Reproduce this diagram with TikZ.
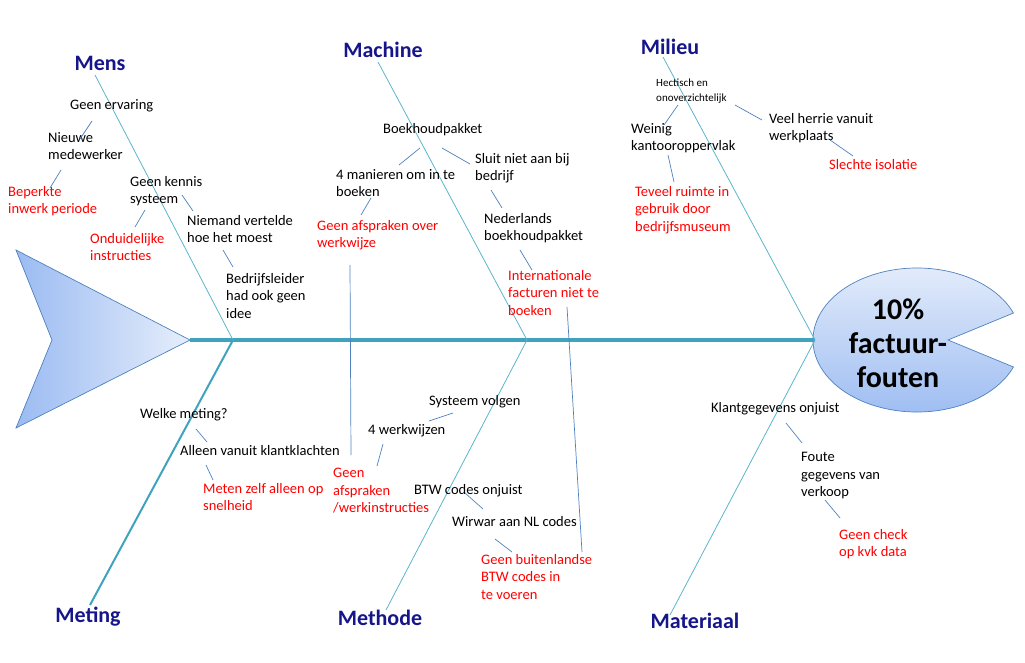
\documentclass[tikz,border=0pt]{standalone}
\usepackage{fontspec}
\setmainfont{Carlito}
\usetikzlibrary{calc}
\begin{document}
\begin{tikzpicture}[x=1pt,y=-1pt,
  bone/.style={draw=bonec,line width=0.8pt},
  link/.style={draw=linkc,line width=0.7pt},
  txt/.style={anchor=north west,align=left,inner sep=0pt,font=\fontsize{14.5}{17.5}\selectfont},
  red/.style={txt,text=red},
  cat/.style={inner sep=0pt,font=\fontsize{22}{24}\selectfont\bfseries,text=navyc}]
\definecolor{bonec}{HTML}{5BB5CC}
\definecolor{spinec}{HTML}{3FA3BE}
\definecolor{linkc}{HTML}{4F81BD}
\definecolor{navyc}{HTML}{16168A}
\definecolor{fillA}{HTML}{9BBBF2}
\definecolor{fillB}{HTML}{E6EEFB}
\useasboundingbox (0,0) rectangle (1025,663);
% tail
\shade[left color=fillA,right color=fillB,draw=linkc,line width=0.7pt]
  (16,250) -- (190,340) -- (16,428) -- (52,340) -- cycle;
% head
\coordinate (hc) at (917,340);
\shade[top color=fillB,bottom color=fillA,draw=linkc,line width=0.7pt]
  (948,340) -- ($(hc)+(-22:104 and 72)$) arc[start angle=-22,end angle=-338,x radius=104,y radius=72] -- cycle;
\node[inner sep=0pt,align=center,font=\fontsize{30}{34}\selectfont\bfseries] (head) at (898,343) {10\%\\factuur-\\fouten};
% spine
\coordinate (s1) at (190,340);
\coordinate (s2) at (815,340);
\draw[spinec,line width=3.5pt] (s1) -- (s2);
\coordinate (j1) at (233,340); \coordinate (j2) at (527,340); \coordinate (j3) at (815,340);
\coordinate (b1) at (95,75); \coordinate (b2) at (378,62); \coordinate (b3) at (663,57);
\coordinate (b4) at (90,605); \coordinate (b5) at (386,610); \coordinate (b6) at (670,615);
\draw[bone] (b1) -- (j1); \draw[bone] (b2) -- (j2); \draw[bone] (b3) -- (j3);
\draw[bone,line width=2pt,draw=spinec] (b4) -- (j1); \draw[bone] (b5) -- (j2); \draw[bone] (b6) -- (j3);
% categories
\node[cat] (mens) at (100,63) {Mens};
\node[cat] (machine) at (383,50) {Machine};
\node[cat] (milieu) at (670,47) {Milieu};
\node[cat] (meting) at (88,617) {Meting};
\node[cat] (methode) at (380,618) {Methode};
\node[cat] (materiaal) at (695,621) {Materiaal};
% Mens
\node[txt] (t1) at (70,99) {Geen ervaring};
\node[txt] (t2) at (48,132) {Nieuwe\\medewerker};
\node[red] (t3) at (8,186) {Beperkte\\inwerk periode};
\node[txt] (t4) at (130,176) {Geen kennis\\systeem};
\node[red] (t5) at (90,233) {Onduidelijke\\instructies};
\node[txt] (t6) at (187,215) {Niemand vertelde\\hoe het moest};
\node[txt] (t7) at (226,273) {Bedrijfsleider\\had ook geen\\idee};
% Machine
\node[txt] (m1) at (383,123) {Boekhoudpakket};
\node[txt] (m2) at (336,169) {4 manieren om in te\\boeken};
\node[txt] (m3) at (475,153) {Sluit niet aan bij\\bedrijf};
\node[red] (m4) at (317,220) {Geen afspraken over\\werkwijze};
\node[txt] (m5) at (484,213) {Nederlands\\boekhoudpakket};
\node[red] (m6) at (508,270) {Internationale\\facturen niet te\\boeken};
% Milieu
\node[txt,font=\fontsize{11}{15}\selectfont] (l1) at (656,79) {Hectisch en\\onoverzichtelijk};
\node[txt] (l2) at (631,123) {Weinig\\kantooroppervlak};
\node[txt] (l3) at (769,113) {Veel herrie vanuit\\werkplaats};
\node[red] (l4) at (829,159) {Slechte isolatie};
\node[red] (l5) at (635,186) {Teveel ruimte in\\gebruik door\\bedrijfsmuseum};
% Meting
\node[txt] (g1) at (140,408) {Welke meting?};
\node[txt] (g2) at (180,445) {Alleen vanuit klantklachten};
\node[red] (g3) at (203,483) {Meten zelf alleen op\\snelheid};
% Methode
\node[txt] (d1) at (429,395) {Systeem volgen};
\node[txt] (d2) at (368,424) {4 werkwijzen};
\node[red] (d3) at (333,468) {Geen\\afspraken\\/werkinstructies};
\node[txt] (d4) at (414,484) {BTW codes onjuist};
\node[txt] (d5) at (452,516) {Wirwar aan NL codes};
\node[red] (d6) at (481,554) {Geen buitenlandse\\BTW codes in\\te voeren};
% Materiaal
\node[txt] (a1) at (711,402) {Klantgegevens onjuist};
\node[txt] (a2) at (801,452) {Foute\\gegevens van\\verkoop};
\node[red] (a3) at (839,529) {Geen check\\op kvk data};
% links
\draw[link] (92,121) -- (80,139);
\draw[link] (61,170) -- (50,188);
\draw[link] (182,195) -- (193,211);
\draw[link] (145,210) -- (135,227);
\draw[link] (223,250) -- (233,267);
\draw[link] (420,148) -- (399,165);
\draw[link] (442,148) -- (470,164);
\draw[link] (371,198) -- (361,215);
\draw[link] (491,190) -- (502,208);
\draw[link] (520,250) -- (532,270);
\draw[link] (350,265) -- (351,455);
\draw[link] (567,307) -- (582,552);
\draw[link] (453,413) -- (429,421);
\draw[link] (383,444) -- (377,466);
\draw[link] (465,493) -- (483,509);
\draw[link] (495,539) -- (512,552);
\draw[link] (678,105) -- (664,125);
\draw[link] (735,105) -- (762,120);
\draw[link] (668,155) -- (674,182);
\draw[link] (830,140) -- (853,156);
\draw[link] (786,423) -- (802,443);
\draw[link] (825,500) -- (840,518);
\draw[link] (196,429) -- (207,442);
\draw[link] (206,465) -- (213,480);
\end{tikzpicture}
\end{document}
